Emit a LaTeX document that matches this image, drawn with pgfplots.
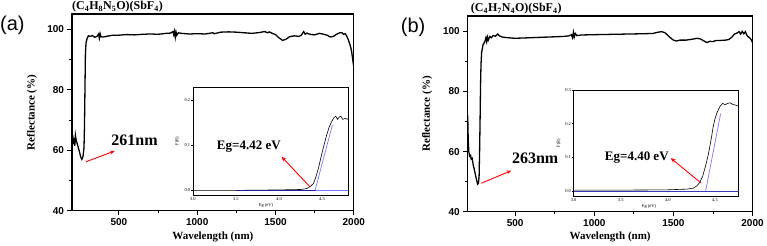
\documentclass[border=0pt]{standalone}
\usepackage{fontspec}
\setmainfont{Liberation Serif}
\setsansfont{Liberation Sans}
\usepackage{pgfplots}
\pgfplotsset{compat=1.18}
\usetikzlibrary{arrows.meta}
\definecolor{lblue}{RGB}{120,120,255}
\definecolor{dblue}{RGB}{30,30,160}
\pgfplotsset{
  /pgf/number format/assume math mode=true,
  /pgf/number format/1000 sep={},
  mainax/.style={
    scale only axis, xmin=200, xmax=2000, ymin=40, ymax=105,
    xtick={500,1000,1500,2000}, ytick={40,60,80,100},
    minor x tick num=1, minor y tick num=1,
    tick pos=left, tick align=outside,
    major tick length=4.5pt, minor tick length=2.5pt,
    axis line style={line width=1.1pt},
    tick style={line width=0.9pt, black},
    tick label style={font=\sffamily\bfseries\fontsize{10}{12}\selectfont},
    xlabel={Wavelength (nm)}, ylabel={Reflectance (\%)},
    label style={font=\bfseries\fontsize{11}{13}\selectfont},
    xlabel style={at={(axis description cs:0.5,-0.13)}, anchor=center},
    ylabel style={at={(axis description cs:-0.142,0.5)}, anchor=center},
    clip mode=individual,
  },
  inax/.style={
    scale only axis, xmin=3, xmax=4.8,
    xtick={3,3.5,4,4.5}, xticklabels={3.0,3.5,4.0,4.5},
    tick pos=left, tick align=outside,
    major tick length=1.5pt,
    axis line style={line width=0.5pt},
    tick style={line width=0.4pt, black},
    tick label style={font=\fontsize{4.5}{5}\selectfont, inner sep=1pt},
    xlabel={Eg (eV)}, ylabel={F(R)},
    label style={font=\fontsize{4.5}{5}\selectfont},
    axis background/.style={fill=white},
    clip mode=individual,
  },
}
\begin{document}
\begin{tikzpicture}[x=1pt,y=1pt]
\path (0,0) rectangle (767,246);
\node[anchor=west, font=\sffamily\fontsize{20}{22}\selectfont, inner sep=0pt] at (0,221) {(a)};
\node[anchor=west, font=\sffamily\fontsize{20}{22}\selectfont, inner sep=0pt] at (401,219) {(b)};

% ---------- panel (a) main
\begin{axis}[mainax, at={(72pt,35pt)}, anchor=south west, width=282pt, height=197pt]
\addplot[black, line width=1.3pt] coordinates {
(200,62)(205,65)(210,62)(214,64)(218,61.5)(222,65)(228,63)(233,62.3)(240,61)(248,59.5)(256,57.8)(263,57)(268,57.5)(272,58.5)(277,61)(280,68)(283,80)(286,92)(290,95.5)(297,97)(305,97.8)(318,97.6)(330,97.9)(345,97.3)(360,97.6)(370,98.4)(375,97)(380,98.5)(385,97.5)(400,97.4)(430,97.7)(460,98)(500,98)(550,98.2)(600,98.1)(650,98.3)(700,98.4)(750,98.3)(800,98.6)(830,98.7)(845,99.2)(850,98.2)(855,99.3)(860,97.3)(865,99)(870,98)(880,98.8)(900,98.6)(950,98.4)(1000,98.5)(1050,98.4)(1100,98.8)(1110,98.5)(1150,99)(1200,99.1)(1250,99)(1300,98.8)(1350,98.6)(1400,98.9)(1430,99.2)(1450,98.8)(1460,99.1)(1480,98.6)(1500,98.2)(1520,97.2)(1545,96.3)(1565,96.6)(1590,97.5)(1620,97.8)(1650,97.6)(1665,98)(1680,99.2)(1690,98.3)(1700,98.7)(1720,98.3)(1750,98.1)(1780,98.6)(1800,98.4)(1830,98)(1850,97.4)(1870,97.6)(1890,98.3)(1910,98.8)(1925,98.8)(1935,98.3)(1945,98.5)(1955,97.7)(1965,96.5)(1975,95)(1985,93)(1993,90)(2000,87.5)
};
\node[font=\bfseries\fontsize{16}{18}\selectfont] at (axis cs:600,63.4) {261nm};
\draw[red, line width=0.9pt, -{Stealth[length=5pt,width=4pt]}] (axis cs:289,56.2) -- (axis cs:474,59.8);
\node[anchor=base west, font=\bfseries\fontsize{12}{14}\selectfont, inner sep=0pt] at ([yshift=4pt]rel axis cs:0,1) {(C\textsubscript{4}H\textsubscript{8}N\textsubscript{5}O)(SbF\textsubscript{4})};
\end{axis}

% ---------- panel (a) inset
\begin{axis}[inax, at={(193pt,51pt)}, anchor=south west, width=155pt, height=108pt,
  ymin=-0.01, ymax=0.23, ytick={0,0.1,0.2}, yticklabels={0.0,0.1,0.2},
  xlabel style={at={(axis cs:3.85,-0.01)}, anchor=north, yshift=-5pt},
  ylabel style={at={(axis description cs:-0.1,0.5)}, anchor=center}]
\addplot[black, line width=0.6pt] coordinates {
(3.0,0.0)(3.5,0.0)(4.0,0.001)(4.25,0.002)(4.32,0.004)(4.36,0.008)(4.40,0.015)(4.43,0.03)(4.46,0.05)(4.49,0.075)(4.52,0.098)(4.55,0.12)(4.58,0.139)(4.61,0.152)(4.64,0.162)(4.66,0.165)(4.68,0.158)(4.70,0.163)(4.72,0.165)(4.74,0.158)(4.77,0.16)(4.8,0.158)
};
\addplot[dblue, line width=0.7pt] coordinates {(3.5,0)(4.42,0)};
\addplot[lblue, line width=0.7pt] coordinates {(4.42,0)(4.8,0)};
\addplot[lblue, line width=0.7pt] coordinates {(4.42,0)(4.62,0.145)};
\node[font=\bfseries\fontsize{13}{15}\selectfont] at (axis cs:3.65,0.097) {Eg=4.42 eV};
\draw[red, line width=0.9pt, -{Stealth[length=5pt,width=4pt]}] (axis cs:4.36,0.008) -- (axis cs:4.03,0.075);
\end{axis}

% ---------- panel (b) main
\begin{axis}[mainax, at={(468pt,34pt)}, anchor=south west, width=285pt, height=196pt]
\addplot[black, line width=1.3pt] coordinates {
(200,72)(203,64)(207,60)(212,58.5)(218,58.8)(222,57.5)(228,57.8)(235,55.5)(242,54)(250,52)(257,50.3)(263,49.2)(268,49.5)(272,52)(275,60)(278,70)(281,82)(284,89)(288,93)(292,94)(297,95.5)(303,96)(310,96.8)(315,97.8)(320,96.5)(325,98)(330,97)(340,98.2)(350,97.8)(360,98.5)(375,98.3)(390,99)(400,98.4)(420,98)(450,97.8)(500,97.6)(550,97.7)(600,97.8)(650,97.9)(700,98)(750,98.1)(800,98.2)(840,98.4)(855,98.8)(862,97.8)(868,99.6)(873,98)(880,99.2)(890,98.5)(920,98.7)(1000,98.8)(1100,98.9)(1200,99)(1300,99.1)(1370,99.2)(1400,99.6)(1425,99.8)(1445,99.5)(1460,98.8)(1480,97.8)(1500,97)(1520,96.7)(1540,97)(1580,97)(1620,97.3)(1650,97.6)(1670,97.4)(1690,96.8)(1710,96.2)(1730,96.6)(1750,96.5)(1770,96.9)(1800,96.9)(1830,97)(1850,97.2)(1870,98)(1885,99)(1900,99.3)(1915,99.8)(1925,99)(1935,99.9)(1945,99.1)(1955,99.8)(1965,98.5)(1980,97.8)(1990,97.3)(2000,96.2)
};
\node[font=\bfseries\fontsize{16}{18}\selectfont] at (axis cs:626,57.9) {263nm};
\draw[red, line width=0.9pt, -{Stealth[length=5pt,width=4pt]}] (axis cs:286,49.5) -- (axis cs:476,53.7);
\node[anchor=base west, font=\bfseries\fontsize{12}{14}\selectfont, inner sep=0pt] at ([xshift=3pt,yshift=4pt]rel axis cs:0,1) {(C\textsubscript{4}H\textsubscript{7}N\textsubscript{4}O)(SbF\textsubscript{4})};
\end{axis}

% ---------- panel (b) inset
\begin{axis}[inax, at={(574pt,50pt)}, anchor=south west, width=165pt, height=106pt, xmax=4.75,
  ymin=-0.014, ymax=0.3, ytick={0,0.1,0.2,0.3}, yticklabels={0.0,0.1,0.2,0.3},
  xlabel style={at={(axis cs:3.8,-0.014)}, anchor=north, yshift=-5pt},
  ylabel style={at={(axis description cs:-0.09,0.5)}, anchor=center}]
\addplot[black, line width=0.6pt] coordinates {
(3.0,0.003)(3.5,0.003)(4.0,0.004)(4.2,0.006)(4.27,0.009)(4.31,0.016)(4.34,0.027)(4.37,0.045)(4.40,0.075)(4.43,0.11)(4.46,0.155)(4.48,0.19)(4.50,0.215)(4.52,0.232)(4.55,0.25)(4.58,0.26)(4.61,0.256)(4.63,0.26)(4.66,0.262)(4.69,0.257)(4.72,0.255)(4.75,0.252)
};
\addplot[dblue!70!lblue, line width=0.7pt] coordinates {(3.0,0)(4.75,0)};
\addplot[lblue, line width=0.7pt] coordinates {(4.40,0)(4.56,0.23)};
\node[font=\bfseries\fontsize{13}{15}\selectfont] at (axis cs:3.67,0.099) {Eg=4.40 eV};
\draw[red, line width=0.9pt, -{Stealth[length=5pt,width=4pt]}] (axis cs:4.35,0.0245) -- (axis cs:4.03,0.098);
\end{axis}
\end{tikzpicture}
\end{document}
